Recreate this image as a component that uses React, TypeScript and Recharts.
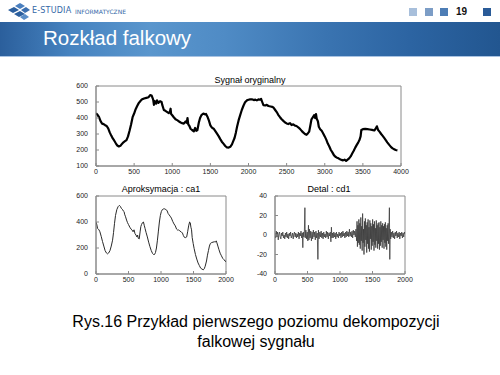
import React from 'react';
import { LineChart, Line, XAxis, YAxis, ReferenceArea } from 'recharts';

const FONT = '"Liberation Sans", Arial, sans-serif';
const AX = '#8a8a8a';

// ---------- Sygnał oryginalny ----------
const signalT = [
  0, 20, 40, 60, 80, 100, 120, 140, 160, 180,
  200, 220, 240, 260, 280, 300, 320, 340, 360, 380,
  400, 420, 440, 460, 480, 500, 520, 540, 560, 580,
  600, 630, 660, 690, 710, 730, 750, 760, 770, 790,
  800, 820, 840, 860, 870, 890, 910, 935, 955, 970,
  978, 985, 1000, 1020, 1043, 1070, 1090, 1110, 1130, 1152,
  1175, 1190, 1200, 1210, 1225, 1240, 1260, 1283, 1300, 1315,
  1330, 1348, 1365, 1383, 1400, 1413, 1430, 1443, 1460, 1480,
  1500, 1520, 1543, 1565, 1587, 1610, 1630, 1650, 1674, 1695,
  1717, 1740, 1761, 1783, 1800, 1817, 1835, 1850, 1870, 1891,
  1912, 1935, 1955, 1978, 2000, 2020, 2043, 2070, 2090, 2109,
  2130, 2150, 2165, 2180, 2196, 2220, 2240, 2261, 2290, 2310,
  2326, 2350, 2370, 2390, 2413, 2435, 2457, 2480, 2500, 2522,
  2545, 2565, 2587, 2610, 2630, 2652, 2675, 2700, 2717, 2740,
  2761, 2780, 2796, 2810, 2826, 2845, 2861, 2875, 2885, 2895,
  2910, 2922, 2940, 2960, 2978, 3000, 3020, 3040, 3060, 3080,
  3100, 3120, 3140, 3160, 3180, 3200, 3220, 3240, 3260, 3280,
  3300, 3320, 3340, 3360, 3380, 3400, 3420, 3440, 3455, 3470,
  3480, 3500, 3530, 3560, 3590, 3620, 3650, 3670, 3684, 3700,
  3718, 3740, 3760, 3782, 3800, 3820, 3846, 3870, 3890, 3910,
  3930, 3953,
];
const signalV = [
  430, 420, 405, 380, 365, 362, 355, 350, 335, 310,
  290, 272, 258, 242, 228, 222, 226, 238, 248, 255,
  262, 285, 320, 360, 405, 428, 455, 475, 493, 505,
  515, 522, 526, 530, 543, 540, 515, 482, 505, 490,
  510, 495, 505, 500, 480, 450, 445, 437, 430, 440,
  458, 425, 417, 405, 392, 385, 378, 372, 368, 365,
  378, 370, 400, 360, 350, 333, 325, 317, 338, 320,
  325, 370, 400, 418, 425, 428, 422, 425, 410, 385,
  354, 340, 333, 318, 302, 285, 268, 252, 238, 225,
  216, 215, 220, 235, 255, 275, 310, 345, 385, 418,
  450, 478, 498, 510, 514, 516, 517, 512, 515, 510,
  516, 514, 520, 500, 480, 478, 482, 475, 472, 470,
  466, 450, 437, 420, 405, 392, 382, 372, 366, 362,
  368, 356, 360, 352, 350, 342, 332, 318, 310, 300,
  295, 305, 315, 350, 392, 405, 418, 400, 425, 395,
  380, 345, 330, 320, 305, 285, 265, 240, 222, 200,
  185, 168, 158, 152, 148, 142, 138, 135, 140, 132,
  140, 148, 160, 178, 195, 215, 232, 248, 262, 285,
  325, 330, 332, 330, 328, 326, 322, 335, 348, 325,
  315, 300, 288, 274, 262, 248, 232, 218, 210, 205,
  200, 198,
];
const signalXTicks = [0, 500, 1000, 1500, 2000, 2500, 3000, 3500, 4000];
const signalYTicks = [100, 200, 300, 400, 500, 600];

// ---------- Aproksymacja : ca1 ----------
const ca1T = [
  0, 10, 25, 45, 60, 80, 100, 120, 140, 160,
  175, 195, 215, 235, 255, 270, 285, 300, 320, 340,
  360, 375, 390, 405, 420, 432, 440, 455, 470, 485,
  500, 520, 540, 555, 570, 585, 600, 615, 630, 640,
  650, 665, 680, 690, 700, 715, 730, 742, 755, 770,
  790, 810, 830, 850, 870, 885, 900, 915, 930, 945,
  960, 975, 990, 1005, 1020, 1035, 1050, 1065, 1080, 1095,
  1110, 1125, 1140, 1160, 1180, 1200, 1220, 1240, 1255, 1270,
  1290, 1310, 1330, 1345, 1360, 1380, 1395, 1410, 1425, 1440,
  1450, 1460, 1470, 1480, 1495, 1510, 1530, 1550, 1570, 1590,
  1610, 1630, 1650, 1665, 1680, 1700, 1715, 1730, 1745, 1760,
  1780, 1800, 1820, 1840, 1850, 1860, 1875, 1890, 1910, 1930,
  1950, 1970, 1985, 2000,
];
const ca1V = [
  400, 385, 350, 340, 325, 290, 250, 215, 180, 162,
  155, 162, 180, 215, 260, 320, 390, 450, 495, 518,
  528, 520, 505, 498, 485, 480, 460, 440, 415, 395,
  380, 360, 345, 338, 325, 340, 310, 300, 285, 300,
  275, 270, 330, 365, 380, 395, 400, 375, 350, 320,
  285, 245, 210, 180, 158, 150, 150, 165, 200, 260,
  330, 400, 450, 480, 495, 500, 502, 498, 495, 485,
  465, 455, 445, 430, 405, 385, 370, 345, 338, 340,
  330, 325, 315, 295, 282, 280, 285, 325, 370, 400,
  395, 360, 340, 280, 235, 195, 150, 115, 85, 65,
  45, 38, 32, 40, 60, 100, 145, 180, 215, 235,
  242, 245, 248, 246, 255, 240, 215, 190, 160, 140,
  120, 110, 100, 95,
];
const halfXTicks = [0, 500, 1000, 1500, 2000];
const ca1YTicks = [0, 200, 400, 600];

// ---------- Detal : cd1 ----------
const cd1T = [
  0, 10, 20, 30, 40, 50, 60, 70, 80, 90,
  100, 110, 120, 130, 140, 150, 160, 170, 180, 190,
  200, 210, 220, 230, 240, 250, 260, 270, 280, 290,
  300, 310, 320, 330, 340, 350, 360, 370, 380, 390,
  400, 410, 420, 428, 435, 445, 452, 460, 465, 475,
  485, 495, 505, 515, 522, 530, 540, 550, 560, 570,
  580, 590, 600, 610, 620, 630, 640, 650, 660, 668,
  678, 690, 700, 710, 720, 730, 740, 750, 760, 770,
  780, 790, 800, 810, 820, 830, 840, 850, 860, 868,
  876, 885, 895, 905, 915, 925, 935, 945, 955, 965,
  975, 985, 995, 1005, 1015, 1025, 1035, 1045, 1055, 1065,
  1075, 1085, 1095, 1105, 1115, 1125, 1135, 1145, 1155, 1165,
  1175, 1185, 1195, 1205, 1215, 1225, 1235, 1245, 1255, 1262,
  1268, 1275, 1282, 1290, 1297, 1305, 1312, 1320, 1327, 1334,
  1341, 1348, 1355, 1362, 1369, 1376, 1383, 1390, 1397, 1404,
  1411, 1418, 1425, 1432, 1439, 1446, 1453, 1460, 1467, 1474,
  1481, 1488, 1495, 1502, 1509, 1516, 1523, 1530, 1537, 1544,
  1551, 1558, 1565, 1572, 1579, 1586, 1593, 1600, 1607, 1614,
  1621, 1628, 1635, 1642, 1649, 1656, 1663, 1670, 1677, 1684,
  1691, 1698, 1705, 1712, 1719, 1726, 1733, 1740, 1747, 1754,
  1760, 1766, 1772, 1780, 1790, 1800, 1810, 1820, 1830, 1840,
  1850, 1860, 1870, 1880, 1890, 1900, 1910, 1920, 1930, 1940,
  1950, 1960, 1970, 1980, 1990, 2000,
];
const cd1V = [
  2, -3, 4, -2, 3, -5, 1, 3, -2, -4,
  2, -1, 3, -3, 0, -4, 2, -2, 3, -3,
  1, -4, 2, -1, 3, -3, -1, 2, -4, 1,
  3, -2, 2, -3, 1, -2, 3, -4, 2, -1,
  4, -3, 2, -13, 3, -2, 4, 28, -3, 5,
  -4, 3, -6, 10, -5, 6, -3, 4, -6, 3,
  -4, 5, -2, 3, -5, 4, -3, 2, -25, 5,
  -4, 3, -2, 4, -3, 2, -4, 3, -2, 1,
  -3, 4, -2, 3, -4, 2, -1, 3, -7, 8,
  -3, 2, -3, 3, -2, 2, -4, 3, -2, 1,
  -3, 3, -1, 2, -3, 3, -2, 4, -1, 2,
  -3, 3, -2, 4, -1, 3, -2, 6, -1, 3,
  -2, 4, -3, 5, 0, 4, -2, 6, -6, 14,
  -12, 10, -8, 16, -10, 12, -14, 18, -6, 9,
  -16, 22, -8, 6, -20, 14, -12, 17, -5, 10,
  -18, 13, -9, 16, -14, 8, -17, 15, -4, 12,
  -15, 9, -11, 16, -7, 11, -16, 14, -10, 7,
  -13, 15, -6, 10, -14, 12, -9, 13, -15, 8,
  -11, 14, -7, 10, -13, 12, -5, 9, -14, 11,
  -8, 13, -12, 7, -15, 10, -6, 12, -9, 8,
  28, -25, 6, -4, 3, -2, 4, -3, 2, -4,
  3, -1, 4, -3, 2, -2, 3, -4, 2, -1,
  3, -3, 2, -2, 3, 1,
];
const cd1YTicks = [-40, -20, 0, 20, 40];

// ---------- texts ----------
const slideTitle = 'Rozkład falkowy';
const brandMain = 'E-STUDIA';
const brandSub = 'INFORMATYCZNE';
const pageNumber = '19';
const titleSignal = 'Sygnał oryginalny';
const titleCa1 = 'Aproksymacja : ca1';
const titleCd1 = 'Detal : cd1';
const captionLine1 = 'Rys.16 Przykład pierwszego poziomu dekompozycji';
const captionLine2 = 'falkowej sygnału';

type PanelProps = {
  xs: number[];
  ys: number[];
  xDomain: [number, number];
  yDomain: [number, number];
  xTicks: number[];
  yTicks: number[];
  width: number;
  height: number;
  margin: { top: number; right: number; bottom: number; left: number };
  yAxisW: number;
  xAxisH: number;
  color: string;
  sw: number;
};

function Panel(p: PanelProps) {
  const data = p.xs.map((x, i) => ({ x, y: p.ys[i] }));
  const tick = { fontSize: 7, fill: '#222', fontFamily: FONT };
  const line = { stroke: AX, strokeWidth: 1 };
  return (
    <LineChart width={p.width} height={p.height} data={data} margin={p.margin}>
      <XAxis
        xAxisId="b"
        dataKey="x"
        type="number"
        domain={p.xDomain}
        ticks={p.xTicks}
        allowDataOverflow
        interval={0}
        axisLine={line}
        tickLine={line}
        tickSize={-3}
        tickMargin={6}
        tick={tick}
        height={p.xAxisH}
      />
      <XAxis
        xAxisId="t"
        orientation="top"
        dataKey="x"
        type="number"
        domain={p.xDomain}
        ticks={p.xTicks}
        allowDataOverflow
        interval={0}
        axisLine={line}
        tickLine={line}
        tickSize={-3}
        tick={false}
        height={0}
      />
      <YAxis
        yAxisId="l"
        type="number"
        domain={p.yDomain}
        ticks={p.yTicks}
        allowDataOverflow
        interval={0}
        axisLine={line}
        tickLine={line}
        tickSize={-3}
        tickMargin={11}
        tick={tick}
        width={p.yAxisW}
      />
      <YAxis
        yAxisId="r"
        orientation="right"
        type="number"
        domain={p.yDomain}
        ticks={p.yTicks}
        allowDataOverflow
        interval={0}
        axisLine={line}
        tickLine={line}
        tickSize={-3}
        tick={false}
        width={0}
      />
      <ReferenceArea
        xAxisId="b"
        yAxisId="l"
        x1={p.xDomain[0]}
        x2={p.xDomain[1]}
        y1={p.yDomain[0]}
        y2={p.yDomain[1]}
        fill="none"
        fillOpacity={0}
        stroke={AX}
        strokeWidth={1}
        ifOverflow="visible"
      />
      <Line
        xAxisId="b"
        yAxisId="l"
        dataKey="y"
        type="linear"
        stroke={p.color}
        strokeWidth={p.sw}
        dot={false}
        isAnimationActive={false}
        strokeLinejoin="round"
      />
    </LineChart>
  );
}

const abs = (l: number, t: number, extra: React.CSSProperties = {}): React.CSSProperties => ({
  position: 'absolute',
  left: l,
  top: t,
  ...extra,
});

export default function App() {
  const chartTitle: React.CSSProperties = {
    fontFamily: FONT,
    fontSize: 9,
    lineHeight: '10px',
    color: '#000',
    textAlign: 'center',
    width: 200,
    whiteSpace: 'nowrap',
  };
  return (
    <div
      style={{
        position: 'absolute',
        left: 0,
        top: 0,
        width: 500,
        height: 375,
        background: '#fff',
        overflow: 'hidden',
        fontFamily: FONT,
      }}
    >
      {/* logo */}
      <svg style={abs(6, 2)} width={24} height={18} viewBox="0 0 24 18">
        <polygon points="2,8 8,5 13,8 7,11" fill="#2c5f9e" />
        <polygon points="9,4 14,1 19,4 14,7" fill="#4a7fbf" />
        <polygon points="8,12 14,9 19,12 13,15" fill="#2c5f9e" />
        <polygon points="15,8 20,5 24,8 19,11" fill="#3a6fb0" />
        <polygon points="14,15 19,12 23,15 18,18" fill="#5a8ec8" />
      </svg>
      <div
        style={abs(32, 6, {
          fontFamily: '"DejaVu Sans", sans-serif',
          fontSize: 8,
          lineHeight: '10px',
          color: '#3468a7',
          letterSpacing: 0.2,
          whiteSpace: 'nowrap',
        })}
      >
        {brandMain}
      </div>
      <div
        style={abs(75, 8, {
          fontFamily: '"DejaVu Sans", sans-serif',
          fontSize: 6,
          lineHeight: '7px',
          color: '#3468a7',
          whiteSpace: 'nowrap',
        })}
      >
        {brandSub}
      </div>
      <div style={abs(409, 8, { width: 8, height: 8, background: '#a8bfdb' })} />
      <div style={abs(425, 8, { width: 8, height: 8, background: '#7c9dc6' })} />
      <div style={abs(440, 8, { width: 8, height: 8, background: '#4d7db5' })} />
      <div
        style={abs(456, 6, {
          fontSize: 10,
          lineHeight: '11px',
          fontWeight: 'bold',
          color: '#111',
        })}
      >
        {pageNumber}
      </div>
      <div style={abs(483, 8, { width: 8, height: 8, background: '#2a5b98' })} />

      {/* title bar */}
      <div
        style={abs(0, 22, {
          width: 500,
          height: 35,
          background:
            'linear-gradient(to right, #2b5f9c 0%, #4683c0 14%, #5a96cd 30%, #4f8bc5 45%, #3a74b1 65%, #2c64a2 82%, #225690 100%)',
        })}
      />
      <div style={abs(0, 56, { width: 500, height: 1, background: '#a9c3e2' })} />
      <div
        style={abs(43, 28, {
          fontSize: 20.5,
          lineHeight: '20.5px',
          color: '#fff',
          whiteSpace: 'nowrap',
        })}
      >
        {slideTitle}
      </div>

      {/* chart titles */}
      <div style={abs(150, 75, chartTitle)}>{titleSignal}</div>
      <div style={abs(61, 184, chartTitle)}>{titleCa1}</div>
      <div style={abs(229, 184, chartTitle)}>{titleCd1}</div>

      {/* charts */}
      <div style={abs(0, 70)}>
        <Panel
          xs={signalT}
          ys={signalV}
          xDomain={[0, 4000]}
          yDomain={[100, 600]}
          xTicks={signalXTicks}
          yTicks={signalYTicks}
          width={420}
          height={112}
          margin={{ top: 16, right: 19, bottom: 0, left: 66 }}
          yAxisW={30}
          xAxisH={16}
          color="#000"
          sw={2.2}
        />
      </div>
      <div style={abs(0, 180)}>
        <Panel
          xs={ca1T}
          ys={ca1V}
          xDomain={[0, 2000]}
          yDomain={[0, 600]}
          xTicks={halfXTicks}
          yTicks={ca1YTicks}
          width={240}
          height={110}
          margin={{ top: 16, right: 14, bottom: 0, left: 66 }}
          yAxisW={30}
          xAxisH={16}
          color="#2a2a2a"
          sw={1}
        />
      </div>
      <div style={abs(240, 180)}>
        <Panel
          xs={cd1T}
          ys={cd1V}
          xDomain={[0, 2000]}
          yDomain={[-40, 40]}
          xTicks={halfXTicks}
          yTicks={cd1YTicks}
          width={180}
          height={110}
          margin={{ top: 16, right: 15, bottom: 0, left: 10 }}
          yAxisW={25}
          xAxisH={16}
          color="#3a3a3a"
          sw={0.8}
        />
      </div>

      {/* caption */}
      <div
        style={abs(6, 312, {
          width: 500,
          textAlign: 'center',
          fontSize: 16,
          lineHeight: '20px',
          color: '#000',
        })}
      >
        {captionLine1}
        <br />
        {captionLine2}
      </div>
    </div>
  );
}
